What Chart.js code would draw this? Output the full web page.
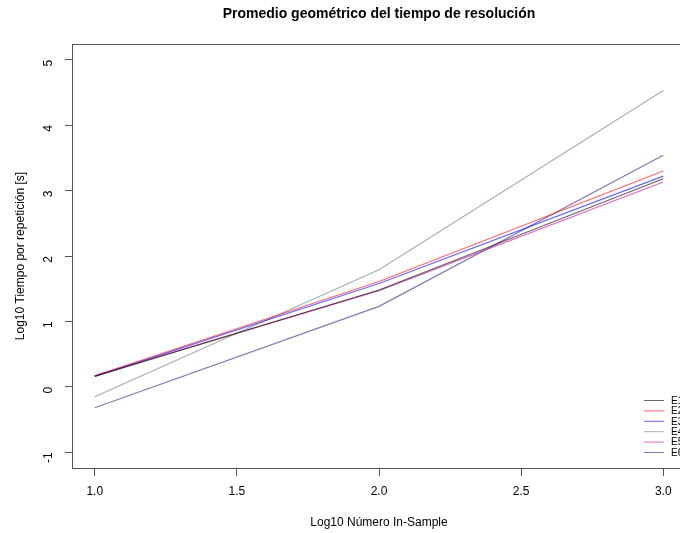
<!DOCTYPE html>
<html>
<head>
<meta charset="utf-8">
<script src="https://cdn.jsdelivr.net/npm/chart.js@4.4.1/dist/chart.umd.min.js"></script>
<style>
  html, body { margin: 0; padding: 0; background: #fff; overflow: hidden; width: 680px; height: 533px; }
  #grafico { display: block; }
</style>
</head>
<body>
<canvas id="grafico" width="700" height="533"></canvas>
<script>
// log10 del tamaño in-sample
const muestra = [1.0, 2.0, 3.0];
const e1 = [0.16, 1.48, 3.18];
const e2 = [0.17, 1.61, 3.30];
const e3 = [0.16, 1.58, 3.22];
const e4 = [-0.15, 1.79, 4.53];
const e5 = [0.17, 1.47, 3.13];
const e6 = [-0.32, 1.23, 3.54];
const etiquetas = ['E1', 'E2', 'E3', 'E4', 'E5', 'E6'];
const colores = ['rgba(0,0,0,0.6)', 'rgba(255,0,0,0.6)', 'rgba(0,0,255,0.6)',
                 'rgba(90,110,135,0.55)', 'rgba(210,0,160,0.6)', 'rgba(50,30,130,0.6)'];
const ticksX = [1.0, 1.5, 2.0, 2.5, 3.0];
const ticksY = [-1, 0, 1, 2, 3, 4, 5];

const series = [e1, e2, e3, e4, e5, e6];
const fuente = 'Liberation Sans, Arial, Helvetica, sans-serif';

// titulo, caja y leyenda al estilo de R
const extras = {
  id: 'extras',
  afterDraw(chart) {
    const ctx = chart.ctx;
    const a = chart.chartArea;
    ctx.save();
    ctx.strokeStyle = '#555';
    ctx.lineWidth = 1;
    ctx.strokeRect(a.left + 0.5, a.top + 0.5, a.right - a.left, a.bottom - a.top);

    ctx.fillStyle = '#000';
    ctx.font = 'bold 14px ' + fuente;
    ctx.textAlign = 'center';
    ctx.textBaseline = 'middle';
    ctx.fillText('Promedio geométrico del tiempo de resolución', (a.left + a.right) / 2, 14);

    ctx.font = '10px ' + fuente;
    ctx.textAlign = 'left';
    etiquetas.forEach(function (et, i) {
      const y = 400 + i * 10.4;
      ctx.strokeStyle = colores[i];
      ctx.beginPath();
      ctx.moveTo(644, y + 0.5);
      ctx.lineTo(664, y + 0.5);
      ctx.stroke();
      ctx.fillStyle = '#000';
      ctx.fillText(et, 671, y + 1);
    });
    ctx.restore();
  }
};

new Chart(document.getElementById('grafico'), {
  type: 'line',
  data: {
    datasets: series.map(function (s, i) {
      return {
        label: etiquetas[i],
        data: muestra.map(function (x, j) { return { x: x, y: s[j] }; }),
        borderColor: colores[i],
        backgroundColor: colores[i],
        borderWidth: 1.2,
        pointRadius: 0,
        fill: false,
        tension: 0
      };
    })
  },
  options: {
    responsive: false,
    animation: false,
    layout: { padding: { top: 44, right: 14, left: 0, bottom: 0 } },
    plugins: { legend: { display: false }, tooltip: { enabled: false } },
    scales: {
      x: {
        type: 'linear',
        min: 0.92, max: 3.08,
        afterBuildTicks: function (s) { s.ticks = ticksX.map(function (v) { return { value: v }; }); },
        afterFit: function (s) { s.height = 65; },
        grid: { display: true, drawOnChartArea: false, drawTicks: true, tickLength: 8, color: '#555' },
        border: { display: false },
        ticks: {
          color: '#000', padding: 8, maxRotation: 0,
          font: { family: fuente, size: 12 },
          callback: function (v) { return Number(v).toFixed(1); }
        },
        title: { display: true, text: 'Log10 Número In-Sample', color: '#000',
                 font: { family: fuente, size: 12 }, padding: { top: 0, bottom: 3 } }
      },
      y: {
        type: 'linear',
        min: -1.24, max: 5.24,
        afterBuildTicks: function (s) { s.ticks = ticksY.map(function (v) { return { value: v }; }); },
        afterFit: function (s) { s.width = 72; },
        grid: { display: true, drawOnChartArea: false, drawTicks: true, tickLength: 7, color: '#555' },
        border: { display: false },
        ticks: {
          color: '#000', padding: 16, minRotation: 90, maxRotation: 90,
          font: { family: fuente, size: 12 }
        },
        title: { display: true, text: 'Log10 Tiempo por repetición [s]', color: '#000',
                 font: { family: fuente, size: 12 }, padding: { top: 13, bottom: 0 } }
      }
    }
  },
  plugins: [extras]
});
</script>
</body>
</html>
